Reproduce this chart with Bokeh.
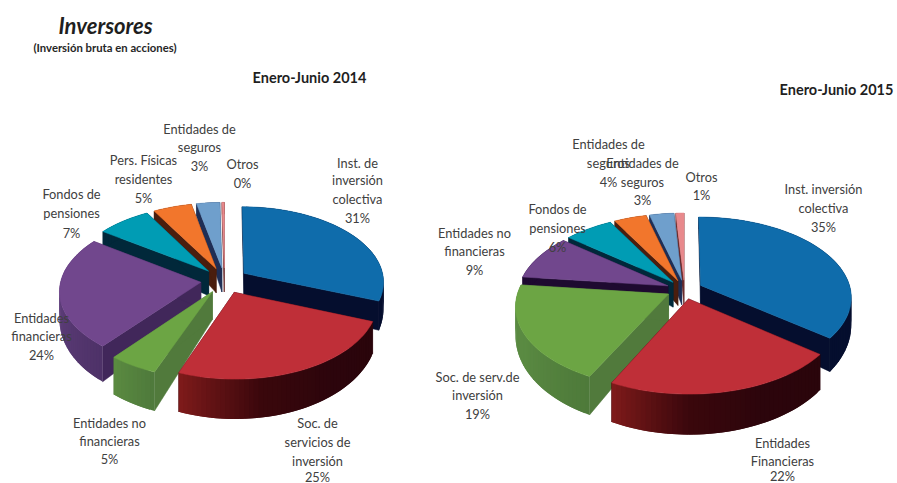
import numpy as np
from bokeh.embed import file_html
from bokeh.models import ColumnDataSource, Range1d
from bokeh.plotting import figure
from bokeh.resources import INLINE
from bokeh.core.properties import value

# ---- data
categories_2014 = ["Inst. de inversión colectiva", "Soc. de servicios de inversión", "Entidades no financieras",
                   "Entidades financieras", "Fondos de pensiones", "Pers. Físicas residentes",
                   "Entidades de seguros", "Otros"]
values_2014 = [31, 25, 5, 24, 7, 5, 3, 0.3]
categories_2015 = ["Inst. inversión colectiva", "Entidades Financieras", "Soc. de serv.de inversión",
                   "Entidades no financieras", "Fondos de pensiones", "Entidades de seguros",
                   "Entidades de seguros", "Otros"]
values_2015 = [35.4, 21.5, 19.4, 9, 6, 4, 3, 1]

# ---- styles: top colour, radial wall colour, outer-wall colour stops along the arc
tops_2014 = ["#0F6CAB", "#BF2F38", "#6CA544", "#71478D", "#009CB4", "#F2762C", "#6F9FCC", "#E8898C"]
tops_2015 = ["#0F6CAB", "#BF2F38", "#6CA544", "#71478D", "#009CB4", "#F2762C", "#6F9FCC", "#E8898C"]
radial_2014 = ["#050E2E", "#2C050C", "#517A3C", "#41275A", "#01283A", "#4A1E0E", "#1F2E55", "#6B2B2B"]
radial_2015 = ["#050E2E", "#2C050C", "#517A3C", "#1E0A30", "#01283A", "#4A1E0E", "#1F2E55", "#6B2B2B"]
outer_2014 = [["#050E2E", "#050E2E"], ["#2A050B", "#2C050C", "#3A070C", "#7D1A1A"], ["#4F7A3C", "#5A8A40"],
              ["#4E3268", "#5E3E7A", "#5E3E7A"], ["#01283A", "#01283A"], ["#4A1E0E", "#4A1E0E"],
              ["#1F2E55", "#1F2E55"], ["#6B2B2B", "#6B2B2B"]]
outer_2015 = [["#050E2E", "#050E2E"], ["#2A050B", "#2C050C", "#3A070C", "#7D1A1A"],
              ["#4E7A3A", "#5A8A42", "#5A8A42"], ["#1E0A30", "#1E0A30"], ["#01283A", "#01283A"],
              ["#4A1E0E", "#4A1E0E"], ["#1F2E55", "#1F2E55"], ["#6B2B2B", "#6B2B2B"]]

# ---- labels: (centre x, [(line, y), ...])
labels_2014 = [
    (357, [("Inst. de", 162), ("inversión", 179), ("colectiva", 198), ("31%", 217)]),
    (317, [("Soc. de", 422), ("servicios de", 441), ("inversión", 460), ("25%", 476)]),
    (109, [("Entidades no", 422), ("financieras", 440), ("5%", 458)]),
    (41, [("Entidades", 317), ("financieras", 335), ("24%", 354)]),
    (71, [("Fondos de", 193), ("pensiones", 212), ("7%", 232)]),
    (143, [("Pers. Físicas", 159), ("residentes", 178), ("5%", 197)]),
    (199, [("Entidades de", 128), ("seguros", 146), ("3%", 165)]),
    (242, [("Otros", 163), ("0%", 182)]),
]
labels_2015 = [
    (823, [("Inst. inversión", 188), ("colectiva", 207), ("35%", 226)]),
    (782, [("Entidades", 442), ("Financieras", 460), ("22%", 475)]),
    (477, [("Soc. de serv.de", 376), ("inversión", 394), ("19%", 413)]),
    (474, [("Entidades no", 232), ("financieras", 250), ("9%", 269)]),
    (557, [("Fondos de", 208), ("pensiones", 227), ("6%", 246)]),
    (608, [("Entidades de", 143), ("seguros", 162), ("4%", 181)]),
    (642, [("Entidades de", 162), ("seguros", 181), ("3%", 199)]),
    (701, [("Otros", 176), ("1%", 194)]),
]

# Data space equals the reference's pixels.
p = figure(width=897, height=483, output_backend="svg", toolbar_location=None,
           x_range=Range1d(0, 897), y_range=Range1d(483, 0), min_border=0,
           outline_line_color=None, background_fill_color="white")
p.axis.visible = False
p.grid.visible = False


def hex2rgb(c):
    return np.array([int(c[i:i + 2], 16) for i in (1, 3, 5)], float)


def ramp(stops, t):
    pos = t * (len(stops) - 1)
    i = min(int(pos), len(stops) - 2)
    f = pos - i
    rgb = hex2rgb(stops[i]) * (1 - f) + hex2rgb(stops[i + 1]) * f
    return "#%02X%02X%02X" % tuple(int(round(c)) for c in rgb)


def draw_pie(vals, tops, radial, outer, cx, cy, R, T, k, e, d0, d1):
    vals = np.array(vals, float)
    cum = np.concatenate([[0], np.cumsum(vals / vals.sum())]) * 2 * np.pi
    mids = (cum[:-1] + cum[1:]) / 2

    def project(gu, gv):
        s = 1 / (1 - k * gv)
        return cx + R * gu * s, cy + T * gv * s, d0 + d1 * gv

    order = np.argsort(-np.cos(mids))
    for i in order:
        a0, a1 = cum[i], cum[i + 1]
        ou, ov = e * np.sin(mids[i]), -e * np.cos(mids[i])
        n = max(int((a1 - a0) / 0.03), 3)
        th = np.linspace(a0, a1, n + 1)
        ax, ay, ad = project(ou, ov)
        rx, ry, rd = project(ou + np.sin(th), ov - np.cos(th))
        wx, wy, wc = [], [], []
        for j in (0, n):
            wx.append([ax, rx[j], rx[j], ax])
            wy.append([ay, ry[j], ry[j] + rd[j], ay + ad])
            wc.append(radial[i])
        p.patches(wx, wy, fill_color=wc, line_color=wc, line_width=0.5)
        # outer wall in shaded facets, drawn overlapping so that no seams show
        wx, wy, wc = [], [], []
        for j in range(n):
            j2 = min(j + 2, n)
            wx.append([rx[j], rx[j2], rx[j2], rx[j]])
            wy.append([ry[j], ry[j2], ry[j2] + rd[j2], ry[j] + rd[j]])
            wc.append(ramp(outer[i], j / max(n - 1, 1)))
        p.patches(wx, wy, fill_color=wc, line_color=None)
        p.patch([ax, *rx], [ay, *ry], fill_color=tops[i], line_color=tops[i], line_width=0.5)


draw_pie(values_2014, tops_2014, radial_2014, outer_2014, 224, 280, 140, 75, 0.105, 0.17, 26, 12)
draw_pie(values_2015, tops_2015, radial_2015, outer_2015, 684, 289, 150, 79, 0.14, 0.12, 26, 13)

xs, ys, txt = [], [], []
for lab in labels_2014 + labels_2015:
    for line, y in lab[1]:
        xs.append(lab[0]); ys.append(y); txt.append(line)
p.text(x="x", y="y", text="t", source=ColumnDataSource(dict(x=xs, y=ys, t=txt)),
       text_font=value("Lato"), text_font_size="12.8px", text_color="#404040",
       text_align="center", text_baseline="middle")

p.text(x=[58], y=[25], text=["Inversores"], text_font=value("Lato"), text_font_size="22px",
       text_font_style="bold italic", text_color="#1F1F1F", text_align="left", text_baseline="middle")
p.text(x=[33], y=[47], text=["(Inversión bruta en acciones)"], text_font=value("Lato"), text_font_size="11.3px",
       text_font_style="bold", text_color="#262626", text_align="left", text_baseline="middle")
p.text(x=[309], y=[77], text=["Enero-Junio 2014"], text_font=value("Lato"), text_font_size="14.5px",
       text_font_style="bold", text_color="#1F1F1F", text_align="center", text_baseline="middle")
p.text(x=[836], y=[89], text=["Enero-Junio 2015"], text_font=value("Lato"), text_font_size="14.5px",
       text_font_style="bold", text_color="#1F1F1F", text_align="center", text_baseline="middle")

open("out.html", "w").write(file_html(p, INLINE))
